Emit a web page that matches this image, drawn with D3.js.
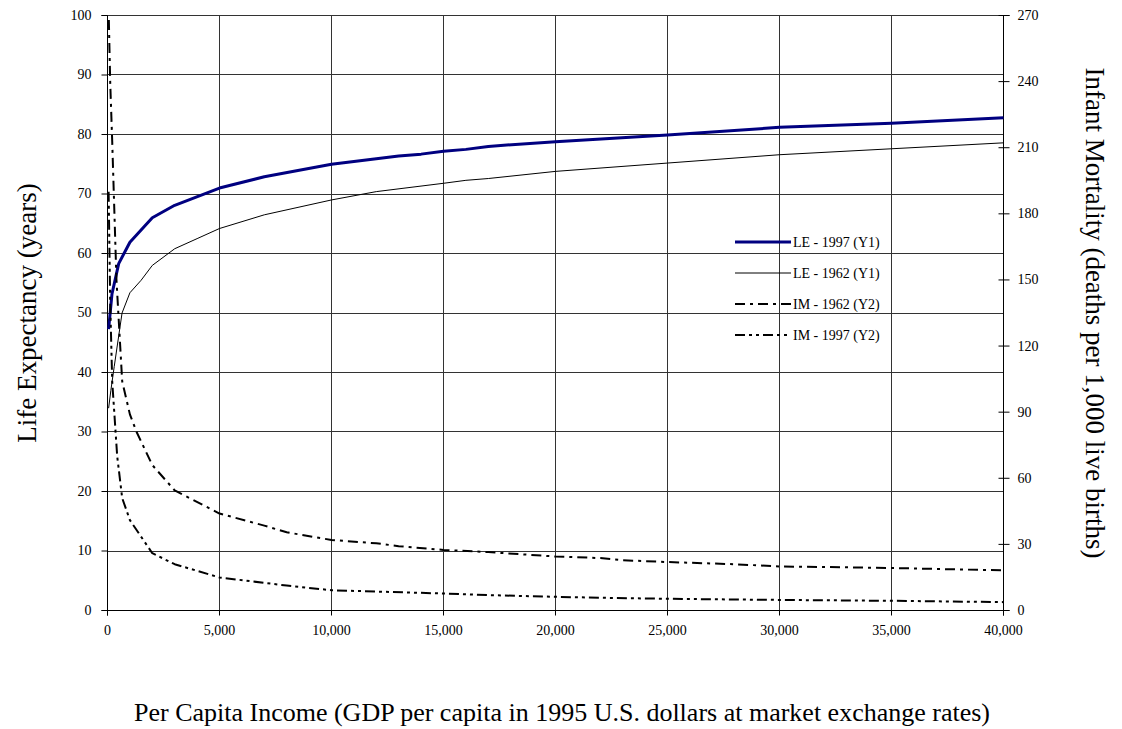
<!DOCTYPE html>
<html>
<head>
<meta charset="utf-8">
<script src="https://cdn.jsdelivr.net/npm/d3@7"></script>
<style>
  body { margin: 0; background: #fff; }
  svg text { font-family: "Liberation Serif", "Times New Roman", serif; fill: #000; }
</style>
</head>
<body>
<svg id="chart" width="1122" height="729"></svg>
<script>
// income values (GDP per capita, 1995 US$)
var le1997X = [50, 200, 500, 1000, 2000, 3000, 5000, 7000, 10000, 13000, 14000, 15000, 16000, 17000, 20000, 25000, 30000, 35000, 40000];
var le1997Y = [47.3, 53.2, 58.3, 61.9, 66.0, 68.1, 71.0, 72.9, 75.0, 76.4, 76.7, 77.2, 77.5, 78.0, 78.8, 79.9, 81.2, 81.9, 82.8];

var le1962X = [50, 150, 300, 650, 1000, 1500, 2000, 3000, 4000, 5000, 7000, 10000, 12000, 15000, 16000, 17000, 20000, 25000, 30000, 35000, 40000];
var le1962Y = [34.0, 37.0, 41.0, 50.0, 53.4, 55.5, 58.0, 60.8, 62.5, 64.2, 66.5, 69.0, 70.4, 71.8, 72.3, 72.6, 73.8, 75.2, 76.6, 77.6, 78.6];

var im1962X = [60, 120, 210, 400, 656, 1000, 1300, 2000, 3000, 5000, 7000, 8000, 10000, 12000, 13000, 15000, 17000, 20000, 22000, 23000, 25000, 28000, 30000, 35000, 40000];
var im1962Y = [268, 240, 213, 150, 104, 89, 81, 66, 54.5, 44, 38.5, 35.5, 32, 30.5, 29.2, 27.5, 26.5, 24.5, 23.8, 22.8, 22, 21, 20, 19.3, 18.2];

var im1997X = [50, 120, 210, 433, 656, 1000, 2000, 3000, 5000, 8000, 10000, 12000, 15000, 17000, 20000, 22000, 25000, 28000, 30000, 35000, 40000];
var im1997Y = [190, 140, 104, 70, 51, 41, 26, 21, 15, 11.3, 9.2, 8.6, 7.7, 7.0, 6.2, 5.8, 5.3, 5.0, 4.8, 4.4, 3.8];

var xTicks = [0, 5000, 10000, 15000, 20000, 25000, 30000, 35000, 40000];
var yLeftTicks = [0, 10, 20, 30, 40, 50, 60, 70, 80, 90, 100];
var yRightTicks = [0, 30, 60, 90, 120, 150, 180, 210, 240, 270];

var seriesNames = ["LE - 1997 (Y1)", "LE - 1962 (Y1)", "IM - 1962 (Y2)", "IM - 1997 (Y2)"];

var svg = d3.select('#chart');
var plotL = 107.5, plotR = 1003.5, plotT = 15.5, plotB = 610.5;

var x = d3.scaleLinear().domain([0, 40000]).range([plotL, plotR]);
var y1 = d3.scaleLinear().domain([0, 100]).range([plotB, plotT]);
var y2 = d3.scaleLinear().domain([0, 270]).range([plotB, plotT]);

// gridlines
svg.append('g').selectAll('line').data(yLeftTicks).enter().append('line')
  .attr('x1', plotL).attr('x2', plotR)
  .attr('y1', function(d) { return Math.round(y1(d) - 0.5) + 0.5; })
  .attr('y2', function(d) { return Math.round(y1(d) - 0.5) + 0.5; })
  .attr('stroke', '#333').attr('stroke-width', 1);
svg.append('g').selectAll('line').data(xTicks).enter().append('line')
  .attr('y1', plotT).attr('y2', plotB)
  .attr('x1', function(d) { return x(d); }).attr('x2', function(d) { return x(d); })
  .attr('stroke', '#333').attr('stroke-width', 1);

// axes
var fmt = d3.format(',');
var gx = svg.append('g').attr('transform', 'translate(0,' + plotB + ')')
  .call(d3.axisBottom(x).tickValues(xTicks).tickFormat(fmt).tickSize(5).tickPadding(10).offset(0));
var gl = svg.append('g').attr('transform', 'translate(' + plotL + ',0)')
  .call(d3.axisLeft(y1).tickValues(yLeftTicks).tickSize(6).tickPadding(10).offset(0));
var gr = svg.append('g').attr('transform', 'translate(' + plotR + ',0)')
  .call(d3.axisRight(y2).tickValues(yRightTicks).tickSize(6).tickPadding(8).offset(0));
[gx, gl, gr].forEach(function(g) {
  g.select('.domain').attr('stroke', '#000');
  g.selectAll('.tick line').attr('stroke', '#000');
  g.selectAll('text').style('font-family', '"Liberation Serif", serif').style('font-size', '14px').attr('fill', '#000');
});
gr.selectAll('.tick line').attr('x1', -5);

function zip(xs, ys) { return xs.map(function(v, i) { return [v, ys[i]]; }); }
var line1 = d3.line().x(function(d) { return x(d[0]); }).y(function(d) { return y1(d[1]); });
var line2 = d3.line().x(function(d) { return x(d[0]); }).y(function(d) { return y2(d[1]); });

var styles = [
  { stroke: '#000080', width: 3, dash: null },
  { stroke: '#000', width: 1, dash: null },
  { stroke: '#000', width: 2, dash: '10,5,3,5' },
  { stroke: '#000', width: 2, dash: '10,4,3,4,3,4' }
];

var paths = [
  line1(zip(le1997X, le1997Y)),
  line1(zip(le1962X, le1962Y)),
  line2(zip(im1962X, im1962Y)),
  line2(zip(im1997X, im1997Y))
];

paths.forEach(function(p, i) {
  svg.append('path').attr('d', p).attr('fill', 'none')
    .attr('stroke', styles[i].stroke).attr('stroke-width', styles[i].width)
    .attr('stroke-dasharray', styles[i].dash).attr('stroke-linejoin', 'round');
});

// legend
var leg = svg.append('g');
seriesNames.forEach(function(name, i) {
  var ly = 242 + i * 31;
  leg.append('line').attr('x1', 735).attr('x2', 791).attr('y1', ly).attr('y2', ly)
    .attr('stroke', styles[i].stroke).attr('stroke-width', styles[i].width)
    .attr('stroke-dasharray', styles[i].dash);
  leg.append('text').attr('x', 793).attr('y', ly + 5).style('font-size', '14px').text(name);
});

// titles
svg.append('text').attr('x', 562).attr('y', 721).attr('text-anchor', 'middle')
  .style('font-size', '26px').text('Per Capita Income (GDP per capita in 1995 U.S. dollars at market exchange rates)');
svg.append('text').attr('transform', 'translate(36,313) rotate(-90)').attr('text-anchor', 'middle')
  .style('font-size', '27px').text('Life Expectancy (years)');
svg.append('text').attr('transform', 'translate(1086,313) rotate(90)').attr('text-anchor', 'middle')
  .style('font-size', '27px').text('Infant Mortality (deaths per 1,000 live births)');
</script>
</body>
</html>
